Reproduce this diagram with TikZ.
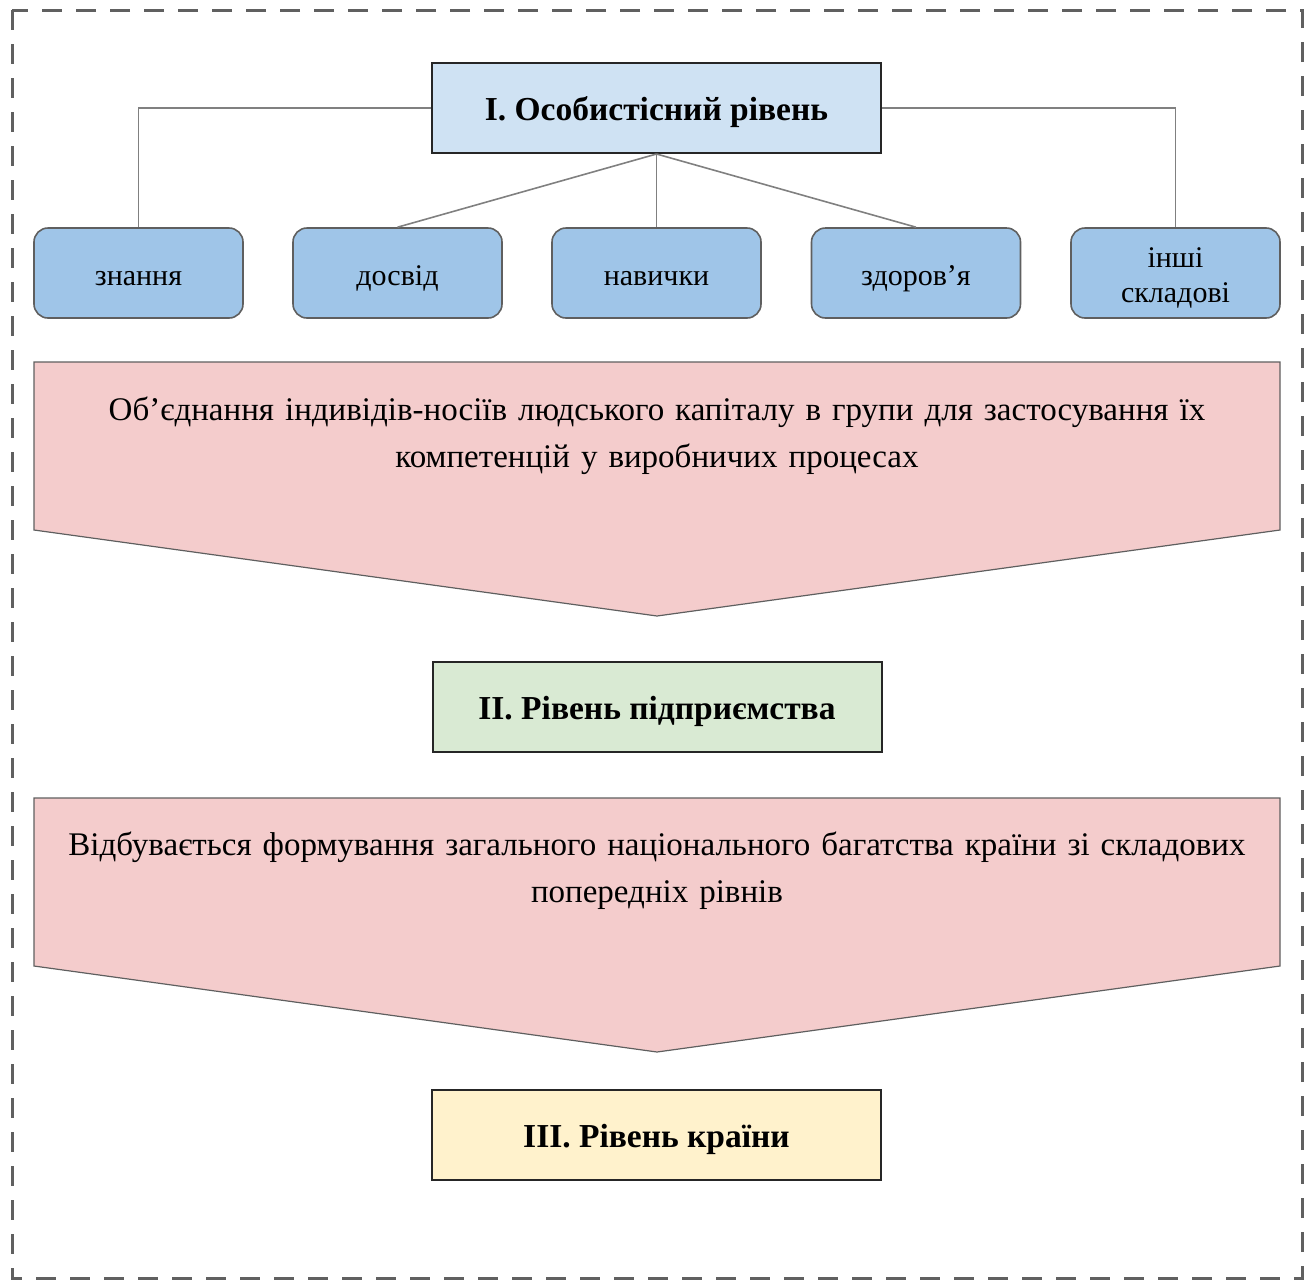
\documentclass[tikz,border=0pt]{standalone}
\usepackage{fontspec}
\setmainfont{Liberation Serif}
\definecolor{topfill}{HTML}{CFE2F3}
\definecolor{compfill}{HTML}{9FC5E8}
\definecolor{pinkfill}{HTML}{F4CCCC}
\definecolor{greenfill}{HTML}{D9EAD3}
\definecolor{yellowfill}{HTML}{FFF2CC}
\definecolor{edgegray}{HTML}{5F5F5F}
\definecolor{linegray}{HTML}{808080}
\definecolor{dashgray}{HTML}{606060}
\begin{document}
\begin{tikzpicture}[x=1pt,y=-1pt,
  levelbox/.style={draw=black!85,line width=2pt,minimum width=449pt,minimum height=90pt,inner sep=0pt,
    font=\fontsize{33.5}{38}\selectfont\bfseries,text height=32pt,text depth=7pt},
  compbox/.style={draw=edgegray,line width=1.6pt,fill=compfill,rounded corners=14pt,minimum width=209pt,
    minimum height=90pt,inner sep=0pt,align=center,font=\fontsize{30}{35}\selectfont,
    text height=31pt,text depth=6.2pt},
  conn/.style={draw=linegray,line width=1.6pt},
  arrowshape/.style={draw=edgegray,line width=1.2pt,fill=pinkfill},
  arrowtext/.style={align=center,font=\fontsize{33}{47}\selectfont,text width=1270pt}
]
\useasboundingbox (0,0) rectangle (1308,1280);
\draw[dashgray,line width=3pt,dash pattern=on 20pt off 14pt] (12,10) rectangle (1302,1278);

\node[levelbox,fill=topfill] (lvl1) at (656.5,108) {I. Особистісний рівень};

\node[compbox] (c1) at (138.5,273) {знання};
\node[compbox] (c2) at (397.5,273) {досвід};
\node[compbox] (c3) at (656.5,273) {навички};
\node[compbox] (c4) at (916,273) {здоров’я};
\node[compbox,text height=65pt] (c5) at (1175.5,273) {інші\\складові};

\draw[conn] (lvl1.west) -| (c1.north);
\draw[conn] (lvl1.east) -| (c5.north);
\draw[conn] (lvl1.south) -- (c2.north);
\draw[conn] (lvl1.south) -- (c3.north);
\draw[conn] (lvl1.south) -- (c4.north);

\draw[arrowshape] (34,362) -- (1280,362) -- (1280,530) -- (657,616) -- (34,530) -- cycle;
\node[arrowtext] (t1) at (657,436) {Об’єднання індивідів-носіїв людського капіталу в групи для застосування їх\\компетенцій у виробничих процесах};

\node[levelbox,fill=greenfill] (lvl2) at (657,707) {II. Рівень підприємства};

\draw[arrowshape] (34,798) -- (1280,798) -- (1280,966) -- (657,1052) -- (34,966) -- cycle;
\node[arrowtext] (t2) at (657,871) {Відбувається формування загального національного багатства країни зі складових\\попередніх рівнів};

\node[levelbox,fill=yellowfill] (lvl3) at (656.5,1134.5) {III. Рівень країни};
\end{tikzpicture}
\end{document}
